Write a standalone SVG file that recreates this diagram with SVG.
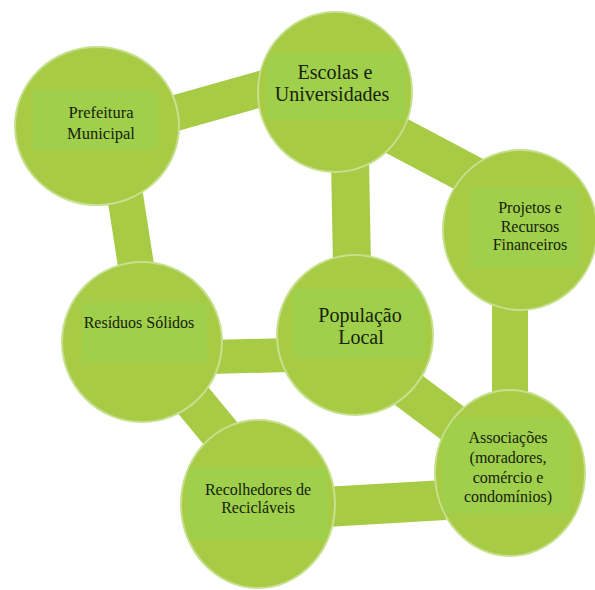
<svg xmlns="http://www.w3.org/2000/svg" width="595" height="590" viewBox="0 0 595 590">
<style>
.bar{stroke:#A8CB45;stroke-linecap:butt;fill:none}
.node{fill:#A8CB45;stroke:#C6E08E;stroke-width:2}
.box{fill:#A0CF4B}
text{font-family:"Liberation Serif","Times New Roman",serif;fill:#15230C;text-anchor:middle}
</style>
<defs>
<clipPath id="c1"><ellipse cx="97" cy="126" rx="81" ry="78"/></clipPath>
<clipPath id="c2"><ellipse cx="335" cy="92" rx="76" ry="79"/></clipPath>
<clipPath id="c3"><ellipse cx="520" cy="230" rx="76" ry="79"/></clipPath>
<clipPath id="c4"><ellipse cx="142" cy="342" rx="79" ry="79"/></clipPath>
<clipPath id="c5"><ellipse cx="355" cy="335" rx="77" ry="79"/></clipPath>
<clipPath id="c6"><ellipse cx="510" cy="473" rx="74" ry="82"/></clipPath>
<clipPath id="c7"><ellipse cx="258" cy="504" rx="76" ry="83"/></clipPath>
</defs>
<rect width="595" height="590" fill="#ffffff"/>
<g id="connectors">
<line class="bar" x1="165" y1="116" x2="275" y2="85" stroke-width="36"/>
<line class="bar" x1="125" y1="195" x2="137" y2="272" stroke-width="36"/>
<line class="bar" x1="350" y1="160" x2="352" y2="265" stroke-width="38"/>
<line class="bar" x1="395" y1="135" x2="480" y2="180" stroke-width="40"/>
<line class="bar" x1="510" y1="295" x2="510" y2="400" stroke-width="36"/>
<line class="bar" x1="210" y1="357" x2="290" y2="355" stroke-width="34"/>
<line class="bar" x1="160" y1="360" x2="230" y2="445" stroke-width="40"/>
<line class="bar" x1="375" y1="365" x2="455" y2="425" stroke-width="40"/>
<line class="bar" x1="325" y1="507" x2="445" y2="500" stroke-width="40"/>
</g>
<g id="prefeitura">
<ellipse class="node" cx="97" cy="126" rx="82" ry="79"/>
<rect class="box" x="33" y="90" width="125" height="60" clip-path="url(#c1)"/>
<text x="101" y="118" font-size="16.5">Prefeitura</text>
<text x="101" y="139" font-size="16.5">Municipal</text>
</g>
<g id="escolas">
<ellipse class="node" cx="335" cy="92" rx="77" ry="80"/>
<rect class="box" x="267" y="53" width="138" height="67" clip-path="url(#c2)"/>
<text x="335" y="79" font-size="20">Escolas e</text>
<text x="332" y="101" font-size="20">Universidades</text>
</g>
<g id="projetos">
<ellipse class="node" cx="520" cy="230" rx="77" ry="80"/>
<rect class="box" x="470" y="188" width="108" height="79" clip-path="url(#c3)"/>
<text x="530" y="213" font-size="16">Projetos e</text>
<text x="530" y="232" font-size="16">Recursos</text>
<text x="530" y="250" font-size="16">Financeiros</text>
</g>
<g id="residuos">
<ellipse class="node" cx="142" cy="342" rx="80" ry="80"/>
<rect class="box" x="82" y="303" width="125" height="59" clip-path="url(#c4)"/>
<text x="139" y="328" font-size="16">Resíduos Sólidos</text>
</g>
<g id="populacao">
<ellipse class="node" cx="355" cy="335" rx="78" ry="80"/>
<rect class="box" x="293" y="289" width="132" height="69" clip-path="url(#c5)"/>
<text x="360" y="322" font-size="20">População</text>
<text x="361" y="344" font-size="20">Local</text>
</g>
<g id="associacoes">
<ellipse class="node" cx="510" cy="473" rx="75" ry="83"/>
<rect class="box" x="442" y="418" width="128" height="95" clip-path="url(#c6)"/>
<text x="508" y="443" font-size="16">Associações</text>
<text x="508" y="463" font-size="16">(moradores,</text>
<text x="508" y="483" font-size="16">comércio e</text>
<text x="508" y="502" font-size="16">condomínios)</text>
</g>
<g id="recolhedores">
<ellipse class="node" cx="258" cy="504" rx="77" ry="84"/>
<rect class="box" x="187" y="467" width="141" height="73" clip-path="url(#c7)"/>
<text x="258" y="495" font-size="16">Recolhedores de</text>
<text x="258" y="513" font-size="16">Recicláveis</text>
</g>
</svg>
